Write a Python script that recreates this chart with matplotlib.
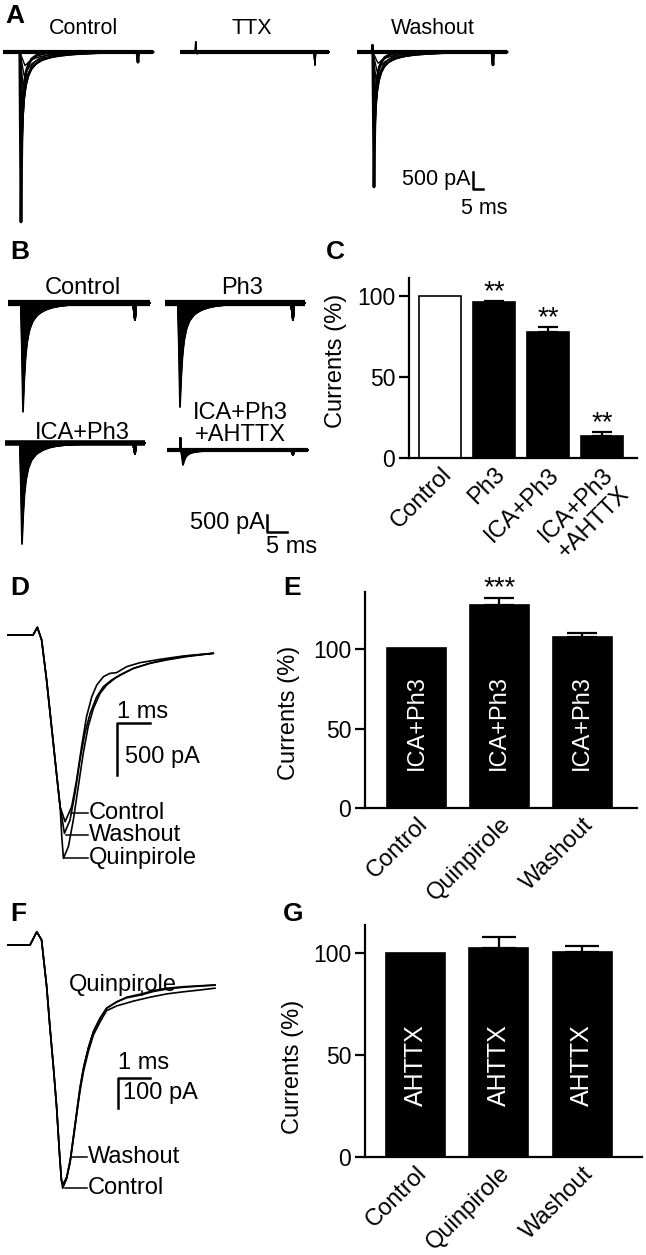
import numpy as np
import matplotlib
matplotlib.use('Agg')
import matplotlib.pyplot as plt

plt.rcParams['font.family'] = ['Liberation Sans', 'DejaVu Sans']

W, H = 646, 1255

# ---------------- data ----------------
# shared normalised decay template read from the sweeps (ms after peak, fraction of peak)
DECAY_T = [0, 0.4, 0.8, 1.3, 2.0, 3.0, 4.5, 6.5, 9, 13, 20, 30]
DECAY_F = [1, 0.7, 0.5, 0.36, 0.25, 0.17, 0.11, 0.07, 0.04, 0.02, 0.008, 0]

# Panel A: families of sweeps (peak amplitude pA)
A_CTRL_AMP = [5000, 3800, 2700, 2000, 1500, 1100, 700, 400]
A_TTX_AMP = [60, 45, 30, 20]
A_WASH_AMP = [3970, 3100, 2300, 1700, 1250, 900, 580, 330]
A_RISE = [0.6, 0.8, 1.0, 1.2, 1.5, 1.8, 2.2, 2.6]
A_STRETCH = [0.6, 1.1, 1.7, 2.4, 3.1, 3.9, 4.7, 5.5]

# Panel B: families of sweeps (peak amplitude pA)
B_CTRL_AMP = [3200, 2700, 2200, 1700, 1300, 950, 650, 400, 200]
B_PH3_AMP = [3060, 2580, 2100, 1620, 1240, 910, 620, 380, 190]
B_ICA_AMP = [2970, 2400, 1900, 1450, 1100, 800, 550, 330, 170]
B_AHTTX_AMP = [440, 330, 250, 180, 120, 80, 50, 30, 15]
B_RISE = [0.5, 0.55, 0.6, 0.65, 0.7, 0.75, 0.8, 0.85, 0.9]
B_STRETCH = [0.8, 0.9, 1.0, 1.1, 1.2, 1.3, 1.4, 1.5, 1.6]

# Panel C
C_CATS = ['Control', 'Ph3', 'ICA+Ph3', 'ICA+Ph3\n+AHTTX']
C_VALS = [100, 96, 77.5, 13.3]
C_ERRS = [0, 1.0, 3.0, 2.7]
C_STARS = ['', '**', '**', '**']

# Panel D: traces (ms, pA)
D_RISE_T = [0, 0.79, 0.92, 1.05, 1.2, 1.35, 1.5, 1.61]
D_RISE_I = [0, 0, 74, -48, -433, -882, -1330, -1652]
D_CTRL_T = [1.76, 1.96, 2.11, 2.26, 2.41, 2.57, 2.72, 2.92, 3.12, 3.32, 3.63, 4.03, 4.64, 5.34, 6.25]
D_CTRL_I = [-1795, -1651, -1394, -1074, -785, -593, -481, -401, -369, -362, -304, -266, -234, -202, -176]
D_WASH_T = [1.74, 1.91, 2.06, 2.21, 2.36, 2.52, 2.72, 2.92, 3.17, 3.42, 3.83, 4.33, 4.84, 5.44, 6.25]
D_WASH_I = [-1907, -1779, -1522, -1202, -945, -753, -593, -497, -433, -385, -321, -272, -234, -202, -176]
D_QUIN_T = [1.66, 1.71, 1.86, 2.01, 2.16, 2.31, 2.46, 2.62, 2.82, 3.02, 3.27, 3.53, 3.83, 4.33, 4.84, 5.44, 6.25]
D_QUIN_I = [-1939, -2147, -2035, -1779, -1458, -1138, -881, -705, -561, -481, -417, -369, -321, -272, -240, -208, -176]

# Panel E
E_CATS = ['Control', 'Quinpirole', 'Washout']
E_VALS = [101, 127.7, 107.5]
E_ERRS = [0, 4.5, 3.0]
E_STARS = ['', '***', '']

# Panel F: traces (ms, pA)
F_RISE_T = [0, 0.72, 0.93, 1.08, 1.24, 1.34, 1.45, 1.55, 1.64, 1.70]
F_RISE_I = [0, 0, 44, 17, -139, -272, -406, -539, -694, -783]
F_QUIN_T = [1.75, 1.86, 1.97, 2.07, 2.18, 2.28, 2.39, 2.54, 2.70, 2.91, 3.11, 3.43, 3.74, 4.21, 4.57, 4.99, 5.51, 6.03, 6.5]
F_QUIN_I = [-800, -778, -722, -644, -556, -478, -411, -344, -289, -244, -211, -189, -174, -163, -152, -144, -139, -136, -133]
F_WASH_T = [1.76, 1.87, 1.98, 2.08, 2.19, 2.29, 2.40, 2.55, 2.71, 2.92, 3.12, 3.43, 3.74, 4.21, 4.57, 4.99, 5.51, 6.03, 6.5]
F_WASH_I = [-797, -772, -715, -636, -548, -470, -405, -340, -286, -242, -210, -190, -176, -166, -155, -147, -141, -137, -134]
F_CTRL_T = [1.74, 1.86, 1.97, 2.07, 2.18, 2.28, 2.39, 2.54, 2.70, 2.91, 3.11, 3.43, 3.95, 4.47, 4.99, 5.51, 6.03, 6.5]
F_CTRL_I = [-811, -780, -726, -650, -564, -488, -422, -356, -300, -256, -219, -203, -187, -174, -163, -156, -150, -144]

# Panel G
G_CATS = ['Control', 'Quinpirole', 'Washout']
G_VALS = [100, 102.4, 100.2]
G_ERRS = [0, 5.4, 2.8]

# ---------------- figure ----------------
fig = plt.figure(figsize=(W / 100, H / 100), dpi=100)


def px_axes(x0, y0, x1, y1):
    return fig.add_axes([x0 / W, 1 - y1 / H, (x1 - x0) / W, (y1 - y0) / H])


def ftext(x, y, s, **kw):
    fig.text(x / W, 1 - y / H, s, **kw)


def trace_axes(x0, x1, y_top, y_bot, y_base, px_ms, px_pa):
    ax = px_axes(x0, y_top, x1, y_bot)
    ax.set_xlim(0, (x1 - x0) / px_ms)
    ax.set_ylim(-(y_bot - y_base) / px_pa, (y_base - y_top) / px_pa)
    ax.axis('off')
    return ax


def sweep(t_on, rise, amp, stretch, blip, t_art, art, t_end):
    t = [0.0, t_on - 0.3, t_on - 0.15, t_on]
    y = [0.0, 0.0, blip, 0.0]
    tp = t_on + rise
    t.append(tp)
    y.append(-amp)
    for dt, f in zip(DECAY_T[1:], DECAY_F[1:]):
        tt = tp + dt * stretch
        if tt >= t_art - 0.6:
            break
        t.append(tt)
        y.append(-amp * f)
    t += [t_art - 0.5, t_art, t_art + 0.3, t_end]
    y += [0, -art, 0, 0]
    return t, y


def family(ax, amps, rises, stretches, t_on, blip, t_art, art, t_end, lw=1.0, base_lw=3.0,
           fill=False, first_lw=None):
    for k, (a, r, s) in enumerate(zip(amps, rises, stretches)):
        t, y = sweep(t_on, r, a, s, blip, t_art, art, t_end)
        ax.plot(t, y, color='k', lw=(first_lw if (k == 0 and first_lw) else lw),
                solid_joinstyle='round')
        if fill and k == 0:
            ax.fill_between(t, y, 0, color='k', lw=0)
    ax.plot([0, t_end], [0, 0], color='k', lw=base_lw, solid_capstyle='butt')


# ---- Panel A ----
PXMS_A, PXPA_A = 2.0, 0.034
axA1 = trace_axes(3, 160, 40, 230, 52, PXMS_A, PXPA_A)
family(axA1, A_CTRL_AMP, A_RISE, A_STRETCH, 8.4, 0, 67.5, 300, 75, lw=1.0, first_lw=2.0)
axA2 = trace_axes(180, 337, 40, 230, 52, PXMS_A, PXPA_A)
family(axA2, A_TTX_AMP, A_RISE[:4], A_STRETCH[:4], 8.0, 300, 67.5, 380, 74.5)
axA3 = trace_axes(357, 520, 40, 230, 52, PXMS_A, PXPA_A)
family(axA3, A_WASH_AMP, A_RISE, A_STRETCH, 7.9, 200, 68, 380, 75, lw=1.0, first_lw=2.0)
# scale bar 500 pA / 5 ms
axA3.plot([58, 58, 63], [-3530, -4030, -4030], color='k', lw=1.8, clip_on=False)

ftext(83, 28, 'Control', ha='center', va='center', fontsize=15.5)
ftext(252, 28, 'TTX', ha='center', va='center', fontsize=15.5)
ftext(433, 28, 'Washout', ha='center', va='center', fontsize=15.5)
ftext(470, 180, '500 pA', ha='right', va='center', fontsize=15.5)
ftext(484, 208, '5 ms', ha='center', va='center', fontsize=15.5)

# ---- Panel B ----
PXMS_B, PXPA_B = 4.0, 0.034
axB1 = trace_axes(8, 155, 290, 420, 303, PXMS_B, PXPA_B)
family(axB1, B_CTRL_AMP, B_RISE, B_STRETCH, 3.25, 0, 31.75, 500, 35.5, lw=1.3, base_lw=4.5,
       fill=True)
axB2 = trace_axes(165, 310, 290, 420, 303, PXMS_B, PXPA_B)
family(axB2, B_PH3_AMP, B_RISE, B_STRETCH, 3.25, 0, 32, 500, 35, lw=1.3, base_lw=4.5,
       fill=True)
axB3 = trace_axes(5, 150, 430, 550, 443, PXMS_B, PXPA_B)
family(axB3, B_ICA_AMP, B_RISE, B_STRETCH, 3.75, 0, 32.5, 320, 35, lw=1.3, base_lw=4,
       fill=True)
axB4 = trace_axes(167, 315, 430, 560, 450, PXMS_B, PXPA_B)
family(axB4, B_AHTTX_AMP, B_RISE, B_STRETCH, 3.5, 350, 31.5, 150, 35.25, lw=1.3, base_lw=3,
       fill=True)
axB4.plot([25, 25, 30], [-1912, -2412, -2412], color='k', lw=1.8, clip_on=False)

ftext(83, 288, 'Control', ha='center', va='center', fontsize=17)
ftext(242, 288, 'Ph3', ha='center', va='center', fontsize=17)
ftext(82, 433, 'ICA+Ph3', ha='center', va='center', fontsize=17)
ftext(240, 424, 'ICA+Ph3\n+AHTTX', ha='center', va='center', fontsize=17, linespacing=1.05)
ftext(265, 523, '500 pA', ha='right', va='center', fontsize=17)
ftext(292, 547, '5 ms', ha='center', va='center', fontsize=17)


# ---- bar panels ----
def bar_panel(rect, cats, vals, errs, ylim, xlim, width, colors, capsize,
              lab_xy, inner=None, inner_y=None, inner_fs=17,
              stars=None, star_off=6.5):
    ax = px_axes(*rect)
    x = np.arange(len(cats))
    ax.bar(x, vals, width=width, color=colors, edgecolor='k', linewidth=1.2, zorder=2)
    for xi, v, e in zip(x, vals, errs):
        if e > 0:
            ax.errorbar(xi, v, yerr=[[0], [e]], fmt='none', ecolor='k', elinewidth=1.6,
                        capsize=capsize, capthick=1.6, zorder=3)
    if stars:
        for xi, v, e, s in zip(x, vals, errs, stars):
            if s:
                ax.text(xi, v + e + star_off, s, ha='center', va='center', fontsize=20,
                        clip_on=False)
    if inner:
        for xi in x:
            ax.text(xi, inner_y, inner, rotation=90, color='white', ha='center', va='center',
                    fontsize=inner_fs)
    ax.set_ylim(*ylim)
    ax.set_xlim(*xlim)
    ax.set_yticks([0, 50, 100])
    ax.tick_params(axis='y', labelsize=16.5, width=1.6, length=7, pad=3)
    ax.tick_params(axis='x', length=0, pad=4)
    ax.set_xticks(x)
    ax.set_xticklabels(cats, rotation=45, ha='right', rotation_mode='anchor', fontsize=17,
                       multialignment='center')
    for sp in ['top', 'right']:
        ax.spines[sp].set_visible(False)
    for sp in ['left', 'bottom']:
        ax.spines[sp].set_linewidth(1.6)
    ax.set_ylabel('Currents (%)', fontsize=17)
    ax.yaxis.set_label_coords(*lab_xy)
    return ax


axC = bar_panel((409, 278, 637, 458), C_CATS, C_VALS, C_ERRS, (0, 111), (-0.58, 3.65), 0.78,
                ['white', 'black', 'black', 'black'], 7.5, (-0.27, 0.54), stars=C_STARS,
                star_off=5.5)
axE = bar_panel((365, 592, 637, 808), E_CATS, E_VALS, E_ERRS, (0, 136), (-0.62, 2.66), 0.71,
                ['black'] * 3, 11, (-0.24, 0.44), inner='ICA+Ph3', inner_y=53.5,
                inner_fs=17, stars=E_STARS, star_off=6)
axG = bar_panel((365, 925, 642, 1157), G_CATS, G_VALS, G_ERRS, (0, 113.5), (-0.61, 2.72), 0.71,
                ['black'] * 3, 12, (-0.22, 0.39), inner='AHTTX', inner_y=45, inner_fs=18)

# ---- Panel D ----
axD = trace_axes(7, 215, 600, 880, 635, 33, 0.104)
for tt, ii in [(D_CTRL_T, D_CTRL_I), (D_WASH_T, D_WASH_I), (D_QUIN_T, D_QUIN_I)]:
    axD.plot(D_RISE_T + tt, D_RISE_I + ii, color='k', lw=1.2, solid_joinstyle='round')
axD.plot([3.33, 3.33, 4.33], [-1346, -846, -846], color='k', lw=1.8, clip_on=False)
axD.text(3.33, -740, '1 ms', ha='left', va='center', fontsize=17)
axD.text(3.58, -1173, '500 pA', ha='left', va='center', fontsize=17)
for t0, iv, lab in [(1.93, -1712, 'Control'), (1.78, -1920, 'Washout'), (1.72, -2140, 'Quinpirole')]:
    axD.plot([t0, 2.45], [iv, iv], color='k', lw=1.1, clip_on=False)
    axD.text(2.47, iv, lab, ha='left', va='center', fontsize=17, clip_on=False)

# ---- Panel F ----
axF = trace_axes(7, 218, 920, 1200, 945, 32, 0.3)
for tt, ii in [(F_CTRL_T, F_CTRL_I), (F_WASH_T, F_WASH_I), (F_QUIN_T, F_QUIN_I)]:
    axF.plot(F_RISE_T + tt, F_RISE_I + ii, color='k', lw=1.2, solid_joinstyle='round')
axF.plot([3.47, 3.47, 4.47], [-543, -443, -443], color='k', lw=1.8, clip_on=False)
axF.text(3.47, -393, '1 ms', ha='left', va='center', fontsize=17)
axF.text(3.63, -493, '100 pA', ha='left', va='center', fontsize=17)
axF.text(3.63, -132, 'Quinpirole', ha='center', va='center', fontsize=17)
axF.plot([4.22, 4.22], [-152, -166], color='k', lw=1.1)
for t0, iv, lab in [(2.03, -707, 'Washout'), (1.81, -810, 'Control')]:
    axF.plot([t0, 2.5], [iv, iv], color='k', lw=1.1, clip_on=False)
    axF.text(2.52, iv, lab, ha='left', va='center', fontsize=17, clip_on=False)

# ---- panel letters ----
for lab, x, y in [('A', 5, 16), ('B', 10, 252), ('C', 326, 252), ('D', 10, 588),
                  ('E', 283, 588), ('F', 10, 914), ('G', 283, 914)]:
    ftext(x, y, lab, ha='left', va='center', fontsize=19, fontweight='bold')

fig.savefig('out.png', dpi=100)
